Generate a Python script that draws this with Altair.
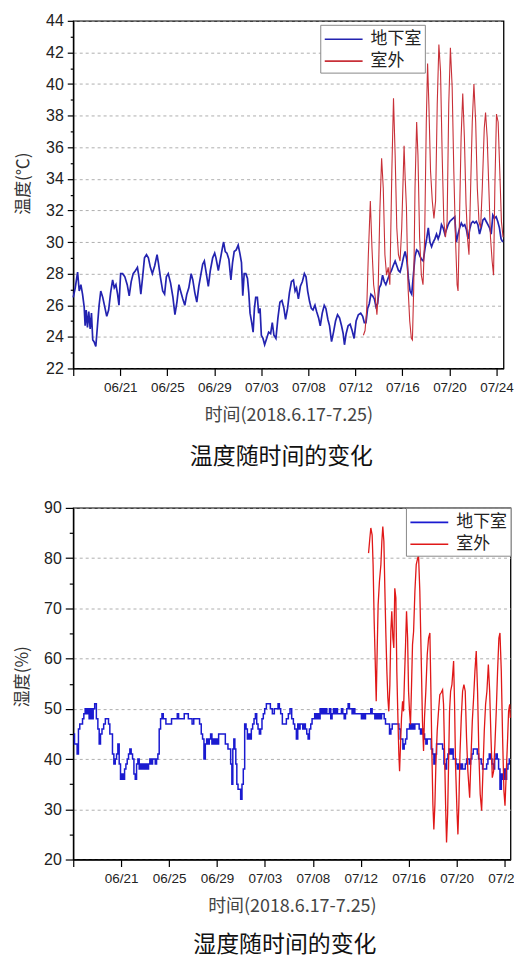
import altair as alt
import pandas as pd

SERIES = ["地下室", "室外"]
X_TICK_POS = [0, 4, 8, 12, 16, 20, 24, 28, 32, 36]
X_TICK_LABELS = ["", "06/21", "06/25", "06/29", "07/03", "07/08", "07/12", "07/16", "07/20", "07/24"]
X_TITLE = "时间(2018.6.17-7.25)"

# ---- temperature, basement (x = days on the axis from 06/17) ----
temp_base_day = [
    0.00, 0.17, 0.37, 0.51, 0.65, 0.79, 0.93, 1.01, 1.10, 1.21, 1.32, 1.44, 1.55, 1.66, 1.77, 1.92,
    2.06, 2.20, 2.34, 2.51, 2.68, 2.85, 3.01, 3.18, 3.35, 3.49, 3.63, 3.77, 3.89, 4.03, 4.20, 4.39,
    4.59, 4.76, 4.93, 5.10, 5.30, 5.46, 5.61, 5.75, 5.89, 6.06, 6.23, 6.39, 6.56, 6.73, 6.93, 7.13,
    7.24, 7.41, 7.61, 7.77, 7.92, 8.08, 8.28, 8.48, 8.65, 8.82, 8.99, 9.13, 9.32, 9.49, 9.66, 9.83,
    10.03, 10.17, 10.34, 10.51, 10.68, 10.82, 11.01, 11.15, 11.32, 11.49, 11.66, 11.86, 12.03,
    12.14, 12.34, 12.51, 12.68, 12.79, 12.93, 13.07, 13.24, 13.41, 13.55, 13.69, 13.86,
    14.03, 14.17, 14.31, 14.42, 14.54, 14.68, 14.82, 14.93, 15.04, 15.18, 15.30, 15.41, 15.52, 15.66,
    15.77, 15.89, 16.00, 16.14, 16.28, 16.45, 16.62, 16.79, 16.93, 17.07, 17.24, 17.41, 17.58, 17.75,
    17.92, 18.06, 18.23, 18.39, 18.56, 18.73, 18.87, 18.99, 19.15, 19.32, 19.49, 19.66, 19.80, 19.94,
    20.11, 20.25, 20.39, 20.56, 20.70, 20.87, 21.01, 21.18, 21.35, 21.49, 21.66, 21.80, 21.97,
    22.14, 22.31, 22.48, 22.65, 22.82, 22.96, 23.07, 23.21, 23.38, 23.55, 23.72, 23.89,
    24.06, 24.25, 24.45, 24.62, 24.76, 24.90, 25.04, 25.18, 25.32, 25.46, 25.61, 25.75, 25.89,
    26.03, 26.17, 26.31, 26.45, 26.59, 26.73, 26.87, 27.07, 27.21, 27.38, 27.52, 27.66, 27.80, 27.94,
    28.08, 28.23, 28.37, 28.51, 28.65, 28.79, 28.93, 29.07, 29.21, 29.35, 29.49, 29.63, 29.77, 29.92,
    30.06, 30.20, 30.34, 30.48, 30.62, 30.76, 30.90, 31.04, 31.18, 31.32, 31.46, 31.61, 31.75, 31.89,
    32.03, 32.17, 32.31, 32.45, 32.59, 32.73, 32.87, 33.01, 33.15, 33.30, 33.44, 33.58, 33.72, 33.86,
    34.00, 34.14, 34.28, 34.42, 34.56, 34.70, 34.85, 34.99, 35.13, 35.27, 35.41, 35.55, 35.69, 35.83,
    35.97, 36.11, 36.25, 36.39, 36.54,
]
temp_base_val = [
    26.5, 27.1, 28.1, 26.9, 27.3, 26.7, 25.9, 24.7, 25.7, 24.6, 25.6, 24.5, 25.5, 23.8, 23.7, 23.4,
    24.7, 26.0, 26.9, 26.5, 25.9, 25.3, 25.7, 26.8, 27.6, 27.1, 27.3, 26.7, 26.0, 28.0, 28.0, 27.8,
    27.3, 26.6, 27.5, 28.0, 28.2, 28.4, 27.7, 26.7, 27.7, 29.0, 29.2, 29.0, 28.4, 28.0, 28.5, 29.2,
    28.7, 27.8, 26.9, 26.7, 27.8, 28.0, 27.4, 26.5, 25.4, 26.2, 27.3, 26.9, 26.4, 26.0, 26.7, 27.1,
    28.0, 27.6, 26.8, 26.2, 27.2, 27.8, 28.6, 28.8, 28.0, 27.2, 28.2, 29.0, 29.3,
    29.0, 28.2, 28.9, 29.6, 30.0, 29.4, 29.3, 28.9, 27.6, 28.7, 29.4, 29.5,
    29.8, 29.3, 28.7, 26.6, 28.0, 28.0, 27.7, 26.8, 25.5, 24.9, 24.3, 25.8, 26.5, 26.5,
    25.5, 25.8, 24.1, 23.9, 23.5, 23.9, 24.3, 24.2, 24.9, 24.1, 23.9, 25.2, 26.2, 26.3,
    25.8, 25.1, 25.8, 26.8, 27.5, 27.6, 26.9, 27.1, 26.4, 27.2, 27.5, 28.0, 27.8, 26.9,
    26.2, 25.8, 25.7, 26.0, 25.6, 25.2, 24.7, 25.5, 26.0, 25.8, 25.1, 24.7, 23.7,
    24.3, 25.0, 25.4, 25.2, 24.7, 24.2, 23.5, 24.2, 24.7, 24.8, 24.4, 23.9,
    25.0, 25.4, 25.5, 25.3, 24.9, 24.9, 25.8, 26.1, 26.7, 26.6, 26.4, 25.9, 26.1,
    27.1, 27.3, 27.9, 27.5, 27.3, 27.6, 27.9, 28.2, 28.5, 28.8, 28.5, 28.2, 28.1, 28.5,
    29.0, 29.4, 28.9, 27.7, 26.9, 26.7, 27.9, 29.1, 29.5, 29.4, 29.1, 28.9, 28.8, 29.6,
    30.2, 30.9, 30.0, 29.7, 30.0, 30.2, 30.5, 30.2, 30.5, 31.1, 30.9, 30.5, 30.8, 31.1,
    31.3, 31.4, 31.5, 31.6, 30.0, 30.5, 30.9, 31.2, 31.0, 31.1, 30.8, 30.2, 30.8, 31.2,
    31.3, 31.2, 31.3, 31.1, 30.5, 30.9, 31.4, 31.5, 31.3, 31.1, 30.9, 30.5, 31.7, 31.5,
    31.6, 31.3, 30.9, 30.2, 30.0,
]

# ---- temperature, outdoor ----
temp_out_day = [
    24.68, 24.82, 24.96, 25.10, 25.27, 25.41, 25.55, 25.69, 25.83, 25.92,
    26.08, 26.23, 26.37, 26.51, 26.65, 26.79, 26.93,
    27.10, 27.24, 27.38, 27.52, 27.66, 27.80, 27.94,
    28.14, 28.23, 28.34, 28.48, 28.62, 28.76, 28.85, 28.96,
    29.07, 29.21, 29.32, 29.46, 29.61, 29.75, 29.89,
    30.03, 30.14, 30.25, 30.39, 30.54, 30.68, 30.82, 30.96,
    31.10, 31.24, 31.38, 31.52, 31.66, 31.80, 31.94,
    32.08, 32.23, 32.37, 32.51, 32.65, 32.73, 32.85, 32.99,
    33.13, 33.27, 33.41, 33.55, 33.66, 33.80, 33.94,
    34.08, 34.23, 34.37, 34.51, 34.65, 34.79, 34.96,
    35.07, 35.21, 35.35, 35.49, 35.63, 35.75, 35.86,
    36.00, 36.14, 36.28, 36.42, 36.56,
]
temp_out_val = [
    24.1, 24.4, 25.7, 29.2, 32.6, 29.6, 27.3, 26.5, 25.4, 26.5,
    32.0, 35.3, 33.4, 29.2, 27.9, 28.4, 27.3,
    34.5, 39.1, 35.5, 30.9, 29.2, 28.8, 30.9,
    36.1, 34.1, 32.2, 27.1, 25.0, 23.9, 23.8, 27.1,
    33.4, 37.6, 35.5, 30.3, 27.9, 27.3, 30.3,
    37.6, 41.3, 38.7, 34.5, 32.6, 31.5, 32.6, 38.7,
    42.5, 40.8, 35.5, 31.3, 30.3, 31.3, 38.7,
    42.3, 39.8, 34.5, 30.3, 27.3, 26.9, 31.3, 36.6,
    39.4, 36.6, 32.4, 30.1, 29.2, 33.4, 37.6,
    40.0, 37.6, 33.4, 31.3, 30.9, 33.4, 37.2,
    38.2, 36.6, 33.4, 30.3, 28.8, 27.9, 33.4,
    38.1, 37.6, 34.5, 31.3, 30.3,
]

# ---- humidity, basement ----
hum_base_day = [
    0.05, 0.16, 0.27, 0.38, 0.49, 0.60, 0.72, 0.83, 0.94,
    1.05, 1.16, 1.27, 1.38, 1.50, 1.61, 1.72, 1.86,
    2.00, 2.11, 2.22, 2.33, 2.47, 2.61, 2.75, 2.89,
    3.00, 3.11, 3.22, 3.33, 3.45, 3.56, 3.67, 3.78, 3.89,
    4.00, 4.11, 4.23, 4.34, 4.45, 4.56, 4.67, 4.78, 4.89,
    5.01, 5.12, 5.23, 5.34, 5.45, 5.56, 5.67, 5.79, 5.90,
    6.01, 6.12, 6.23, 6.34, 6.45, 6.56, 6.68, 6.79, 6.90,
    7.01, 7.12, 7.23, 7.35, 7.46, 7.57, 7.68, 7.79, 7.96,
    8.12, 8.29, 8.46, 8.63, 8.74, 8.85,
    9.02, 9.18, 9.35, 9.52, 9.69, 9.85, 9.99,
    10.13, 10.30, 10.46, 10.63, 10.74, 10.85, 10.97,
    11.08, 11.19, 11.30, 11.41, 11.52, 11.63, 11.75, 11.86, 11.97,
    12.08, 12.19, 12.36, 12.53, 12.64, 12.75, 12.86, 12.97,
    13.08, 13.20, 13.28, 13.36, 13.45, 13.53, 13.61, 13.70, 13.81, 13.92,
    14.03, 14.14, 14.25, 14.37, 14.48, 14.59, 14.70, 14.81, 14.92,
    15.03, 15.15, 15.26, 15.37, 15.48, 15.59, 15.70, 15.81, 15.92,
    16.04, 16.20, 16.37, 16.54, 16.70, 16.87,
    17.04, 17.15, 17.26, 17.37, 17.54, 17.71, 17.87,
    18.04, 18.15, 18.32, 18.43, 18.54, 18.71,
    18.77, 18.88, 18.99, 19.10, 19.21, 19.32, 19.43, 19.55, 19.66, 19.77, 19.88, 19.99,
    20.10, 20.21, 20.33, 20.44, 20.55, 20.66, 20.77, 20.88, 20.99,
    21.11, 21.22, 21.33, 21.44, 21.55, 21.66, 21.78, 21.89, 22.00,
    22.11, 22.22, 22.33, 22.44, 22.56, 22.67, 22.78, 22.89, 23.00,
    23.11, 23.22, 23.33, 23.45, 23.56, 23.67, 23.78, 23.89, 24.00,
    24.11, 24.23, 24.34, 24.45, 24.56, 24.67, 24.78, 24.89, 25.01,
    25.12, 25.23, 25.34, 25.45, 25.56, 25.68, 25.79, 25.90, 26.01,
    26.12, 26.23, 26.34, 26.46, 26.57, 26.68, 26.79, 26.90, 27.01,
    27.12, 27.24, 27.35, 27.46, 27.57, 27.68, 27.79, 27.91, 28.02,
    28.13, 28.24, 28.35, 28.46, 28.57, 28.68,
    28.82, 28.93, 29.04, 29.15, 29.27, 29.38, 29.49, 29.60, 29.71, 29.82, 29.94,
    30.05, 30.16, 30.27, 30.38, 30.49, 30.63, 30.77, 30.89,
    31.00, 31.11, 31.22, 31.33, 31.44, 31.55, 31.66, 31.77, 31.89,
    32.00, 32.11, 32.22, 32.33, 32.44, 32.55, 32.67, 32.78, 32.89,
    33.00, 33.11, 33.22, 33.33, 33.45, 33.56, 33.67, 33.78, 33.89,
    34.00, 34.11, 34.23, 34.34, 34.45, 34.56, 34.67, 34.78, 34.90,
    35.01, 35.12, 35.23, 35.34, 35.45, 35.56, 35.68, 35.79, 35.90,
    36.01, 36.12, 36.23, 36.34, 36.45,
]
hum_base_val = [
    45, 43, 43, 41, 46, 47, 47, 48, 49,
    50, 49, 50, 48, 50, 48, 50, 51,
    48, 46, 43, 45, 46, 47, 48, 48,
    47, 45, 45, 41, 39, 40, 41, 43, 39,
    36, 37, 36, 38, 39, 40, 41, 42, 41,
    40, 37, 36, 39, 40, 38, 39, 38, 39,
    38, 39, 38, 39, 40, 39, 40, 40, 39,
    40, 41, 46, 48, 49, 48, 48, 47, 47,
    47, 48, 48, 48, 49, 48,
    48, 48, 49, 49, 48, 48, 47,
    48, 48, 48, 47, 45, 44, 40,
    43, 44, 43, 44, 45, 43, 44, 43, 44,
    43, 45, 45, 45, 45, 43, 43, 42,
    42, 39, 35, 42, 44, 42, 39, 35, 34, 34,
    32, 35, 38, 47, 46, 44, 45, 44, 46,
    47, 48, 49, 47, 46, 45, 46, 48, 49,
    50, 51, 51, 50, 49, 50,
    50, 51, 50, 49, 47, 47, 48,
    49, 50, 48, 47, 46, 44,
    47, 46, 47, 47, 46, 47, 46, 45, 44, 46, 47, 48,
    48, 49, 48, 49, 48, 50, 49, 50, 49,
    50, 49, 49, 50, 48, 49, 50, 49, 50,
    49, 49, 49, 50, 49, 48, 49, 50, 51,
    50, 50, 49, 50, 49, 49, 49, 49, 49,
    48, 49, 48, 49, 49, 49, 49, 50, 49,
    49, 48, 49, 48, 49, 48, 49, 49, 48,
    47, 47, 47, 45, 46, 47, 47, 47, 47,
    47, 46, 44, 44, 42, 43, 44, 46, 46,
    47, 46, 47, 46, 47, 47,
    47, 46, 45, 46, 45, 44, 43, 44, 44, 44, 42,
    41, 39, 41, 43, 43, 43, 43, 42,
    39, 38, 40, 41, 42, 41, 42, 40, 40,
    39, 38, 39, 38, 39, 38, 38, 39, 40,
    40, 39, 40, 41, 42, 42, 42, 41, 40,
    40, 39, 38, 38, 38, 39, 40, 41, 40,
    39, 38, 40, 41, 40, 38, 34, 37, 36,
    38, 36, 38, 39, 40,
]

# ---- humidity, outdoor ----
hum_out_day = [
    24.65, 24.76, 24.84, 24.95, 25.03, 25.12, 25.20, 25.29, 25.37, 25.45,
    25.56, 25.68, 25.76, 25.84, 25.93, 26.01, 26.09, 26.18, 26.26, 26.34,
    26.43, 26.51, 26.59, 26.68, 26.76, 26.84, 26.93, 27.01, 27.10, 27.18,
    27.24, 27.32, 27.40, 27.49, 27.57, 27.65, 27.74, 27.82, 27.91, 27.99,
    28.07, 28.15, 28.24, 28.32, 28.41, 28.52, 28.63,
    28.82, 28.93, 29.04, 29.15, 29.24, 29.32, 29.43, 29.55, 29.66, 29.77,
    29.85, 29.94, 30.02, 30.10, 30.19, 30.27, 30.38, 30.49, 30.60, 30.71,
    30.83, 30.91, 31.00, 31.08, 31.16, 31.25, 31.33, 31.41, 31.50, 31.61,
    31.75, 31.83, 31.91, 32.03, 32.11, 32.19, 32.28, 32.39, 32.50, 32.61,
    32.72, 32.83, 32.94, 33.09, 33.20, 33.31, 33.42, 33.53, 33.64, 33.75,
    33.86, 33.97, 34.09, 34.20, 34.31, 34.42, 34.53, 34.65, 34.76, 34.87,
    34.98, 35.09, 35.20, 35.31, 35.42, 35.53, 35.62, 35.73, 35.84, 35.95,
    36.04, 36.15, 36.26, 36.34, 36.43, 36.48,
]
hum_out_val = [
    81.0, 84.0, 86.0, 84.6, 78.7, 67.4, 60.1, 51.5, 61.5, 70.7,
    75.4, 78.7, 83.3, 86.3, 83.3, 74.0, 65.4, 57.5, 52.2, 49.5,
    54.8, 65.4, 69.4, 64.1, 62.1, 74.0, 72.1, 57.5, 48.2, 40.9,
    37.6, 42.9, 48.2, 51.5, 49.5, 56.2, 62.8, 69.4, 64.1, 53.5,
    49.5, 46.9, 54.8, 62.8, 65.4, 73.4, 78.7,
    80.7, 73.4, 60.8, 47.5, 41.6, 48.2, 53.5, 60.8, 64.1, 65.1,
    54.2, 40.9, 31.0, 26.0, 31.0, 38.9, 45.6, 49.5, 52.8, 53.2,
    53.8, 50.9, 40.9, 31.0, 23.4, 29.0, 38.9, 49.5, 53.5, 54.8,
    59.5, 50.9, 38.9, 29.7, 25.0, 31.0, 40.9, 48.2, 53.5, 54.8,
    53.5, 44.2, 37.6, 32.3, 40.3, 47.5, 52.2, 57.5, 61.5, 53.5,
    40.9, 33.0, 29.7, 37.6, 45.6, 50.9, 53.5, 58.8, 53.5, 44.2,
    36.3, 37.6, 42.9, 49.5, 57.5, 64.1, 65.1, 57.5, 44.2, 33.6,
    30.7, 37.6, 44.2, 49.5, 50.9, 48.2,
]

FONT_CJK = "Noto Sans CJK SC"
FONT_NUM = "Liberation Sans"


def long_df(day_a, val_a, day_b, val_b):
    return pd.DataFrame({
        "day": list(day_a) + list(day_b),
        "value": list(val_a) + list(val_b),
        "series": [SERIES[0]] * len(day_a) + [SERIES[1]] * len(day_b),
    })


x_label_expr = "[" + ",".join("'" + s + "'" for s in X_TICK_LABELS) + "][round(datum.value / 4)]"


def panel(df, x_max, y_min, y_max, y_major, y_minor, y_title, title_y, caption, caption_offset,
          width, height, colors, widths, blue_interp, legend_x, legend_y,
          major_tick, minor_tick, y_title_pad):
    y_vals = list(range(y_min, y_max + 1, y_minor))
    minor_test = "datum.value % " + str(y_major) + " != 0"
    xenc = alt.X(
        "day:Q",
        scale=alt.Scale(domain=[0, x_max], nice=False, zero=False),
        axis=alt.Axis(
            values=X_TICK_POS, labelExpr=x_label_expr, grid=False,
            tickSize=7, tickWidth=1.2, tickColor="black",
            domainColor="black", domainWidth=1.3,
            labelFont=FONT_NUM, labelFontSize=13.5, labelColor="#222", labelPadding=5.5,
            labelFlush=False, labelOverlap=False,
            title=X_TITLE, titleFont=FONT_CJK, titleFontSize=18, titleFontWeight="normal",
            titleColor="#444", titlePadding=12.5,
        ),
    )
    yenc = alt.Y(
        "value:Q",
        scale=alt.Scale(domain=[y_min, y_max], nice=False, zero=False),
        axis=alt.Axis(
            values=y_vals,
            labelExpr="datum.value % " + str(y_major) + " == 0 ? datum.label : ''",
            tickSize={"condition": {"test": minor_test, "value": minor_tick}, "value": major_tick},
            tickWidth=1.2, tickColor="black",
            domainColor="black", domainWidth=1.3,
            grid=True, gridDash=[3, 3], gridColor="#9a9a9a", gridWidth=0.8,
            gridOpacity={"condition": {"test": minor_test, "value": 0}, "value": 1},
            labelFont=FONT_NUM, labelFontSize=16, labelColor="#222", labelPadding=4,
            title=y_title, titleFont=FONT_CJK, titleFontSize=17, titleFontWeight="normal",
            titleColor="#333", titlePadding=y_title_pad, titleY=title_y,
        ),
    )
    color = alt.Color(
        "series:N",
        scale=alt.Scale(domain=SERIES, range=colors),
        legend=alt.Legend(
            title=None, orient="none", legendX=legend_x, legendY=legend_y,
            symbolType="M-1.9,0H1.9", symbolSize=400, symbolStrokeWidth=1.6,
            symbolOffset=9, labelOffset=16,
            labelFont=FONT_CJK, labelFontSize=17, labelColor="#222",
            padding=3.5, rowPadding=3, strokeColor="#888", fillColor="white",
        ),
    )
    base = alt.Chart(df)
    blue = base.transform_filter(alt.datum.series == SERIES[0]).mark_line(
        strokeWidth=widths[0], interpolate=blue_interp
    ).encode(x=xenc, y=yenc, color=color)
    red = base.transform_filter(alt.datum.series == SERIES[1]).mark_line(
        strokeWidth=widths[1]
    ).encode(x=xenc, y=yenc, color=color)
    return alt.layer(blue, red).properties(
        width=width, height=height,
        title=alt.TitleParams(
            text=caption, orient="bottom", anchor="middle", font=FONT_CJK, fontSize=23,
            fontWeight="normal", color="#111", offset=caption_offset, dx=-7,
        ),
    )


top = panel(
    long_df(temp_base_day, temp_base_val, temp_out_day, temp_out_val),
    36.6, 22, 44, 2, 1, "温度(℃)", 163, "温度随时间的变化", 21,
    432, 349, ["#2323b0", "#c83038"], [1.7, 1.1], "linear", 248, 4, 6, 3, 13,
)
bottom = panel(
    long_df(hum_base_day, hum_base_val, hum_out_day, hum_out_val),
    36.5, 20, 90, 10, 5, "湿度(%)", 169, "湿度随时间的变化", 18.5,
    439, 353, ["#1a1ad0", "#e01818"], [1.5, 1.3], "step", 334, 0, 8, 4, 12,
)

chart = alt.vconcat(top, bottom, spacing=29).resolve_scale(color="independent").properties(
    padding={"left": 4.5, "top": 2, "right": -8.5, "bottom": -2}
).configure_view(stroke="black", strokeWidth=1.3)

chart.save("out.html", embed_options={"renderer": "svg", "actions": False})
